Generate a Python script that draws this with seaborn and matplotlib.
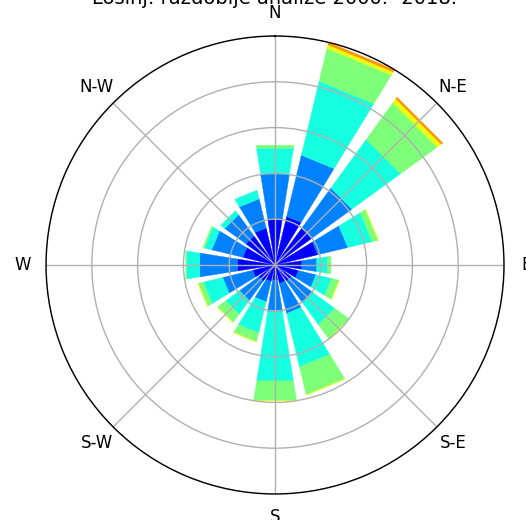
import numpy as np
import matplotlib
matplotlib.use("Agg")
import matplotlib.pyplot as plt
import seaborn as sns

# ---------------- data ----------------
directions = ["N", "NNE", "NE", "ENE", "E", "ESE", "SE", "SSE",
              "S", "SSW", "SW", "WSW", "W", "WNW", "NW", "NNW"]
direction_deg = [0.0, 22.5, 45.0, 67.5, 90.0, 112.5, 135.0, 157.5,
                 180.0, 202.5, 225.0, 247.5, 270.0, 292.5, 315.0, 337.5]

# frequency (%) per speed class, one value per direction
speed_bin_1 = [2.01, 2.18, 1.97, 1.92, 1.18, 1.05, 0.87, 0.83, 0.66, 0.74, 0.87, 1.00, 1.66, 1.44, 1.57, 1.66]
speed_bin_2 = [2.01, 2.75, 2.18, 1.35, 0.66, 0.79, 1.18, 1.35, 1.40, 0.92, 1.05, 1.35, 1.66, 1.40, 1.14, 1.31]
speed_bin_3 = [1.14, 3.32, 2.62, 1.09, 0.48, 0.70, 1.18, 2.40, 3.06, 1.40, 0.74, 0.87, 0.59, 0.33, 0.22, 0.39]
speed_bin_4 = [0.13, 1.46, 1.97, 0.26, 0.15, 0.33, 0.76, 1.24, 0.85, 0.39, 0.44, 0.22, 0.04, 0.07, 0.00, 0.00]
speed_bin_5 = [0.00, 0.17, 0.22, 0.02, 0.00, 0.02, 0.02, 0.02, 0.02, 0.01, 0.01, 0.02, 0.00, 0.00, 0.00, 0.00]
speed_bin_6 = [0.00, 0.11, 0.09, 0.00, 0.00, 0.00, 0.00, 0.00, 0.00, 0.00, 0.00, 0.00, 0.00, 0.00, 0.00, 0.00]
speed_bins = [speed_bin_1, speed_bin_2, speed_bin_3, speed_bin_4, speed_bin_5, speed_bin_6]

grid_angles = [0, 45, 90, 135, 180, 225, 270, 315]
grid_labels = ["N", "N-E", "E", "S-E", "S", "S-W", "W", "N-W"]

title = "Lošinj: razdoblje analize 2000.- 2018."

# ---------------- plot ----------------
sns.set_theme(style="white", rc={"axes.axisbelow": "line"})
plt.rcParams["font.family"] = ["DejaVu Sans"]

fig = plt.figure(figsize=(5.26, 5.20), dpi=100)
ax = fig.add_axes([0.0875, 0.05, 0.8707, 0.8808], projection="polar")
ax.set_theta_zero_location("N")
ax.set_theta_direction(-1)

jet = matplotlib.colormaps["jet"]
colors = [jet(v) for v in np.linspace(0, 1, 9)[1:-1]]
theta = np.deg2rad(direction_deg)
width = np.deg2rad(360.0 / len(directions)) * 0.8
bottom = np.zeros(len(directions))
for vals, c in zip(speed_bins, colors):
    vals = np.asarray(vals, dtype=float)
    bars = ax.bar(theta, vals, width=width, bottom=bottom, color=c,
                  edgecolor=c, linewidth=0.3, align="center", zorder=1)
    for b, v in zip(bars, vals):
        b.get_path()._interpolation_steps = 1
        if v <= 0:
            b.set_visible(False)
    bottom = bottom + vals

rmax = bottom.max()
ax.set_ylim(0, rmax)
ax.set_yticks(np.linspace(0, rmax, 6)[1:])
ax.set_yticklabels([])
ax.set_thetagrids(grid_angles, grid_labels, fontsize=12, color="black")
ax.grid(True, color="#b0b0b0", linewidth=1.0)
ax.spines["polar"].set_color("black")
ax.spines["polar"].set_linewidth(1.0)

fig.text(0.5228, 1 - 4.5 / 520, title, ha="center", va="baseline",
         fontsize=14, color="black")

fig.savefig("out.png", dpi=100, facecolor="white")
